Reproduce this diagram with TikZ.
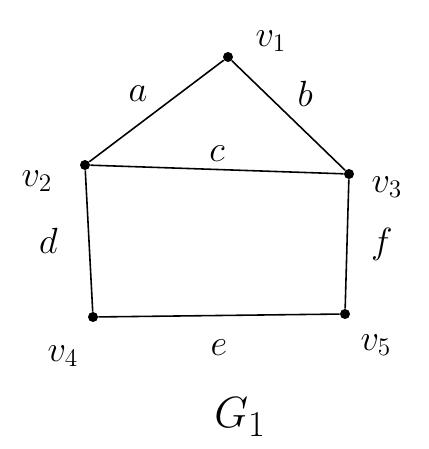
\documentclass[tikz,border=0pt]{standalone}
\usepackage{tikz}
\usetikzlibrary{positioning}
\begin{document}
\begin{tikzpicture}[font=\huge]
  \tikzset{
    vertex/.style={
      circle,
      fill=black,
      inner sep=0pt,
      minimum size=0.2cm,
    },
    edge/.style={
      draw=black,
      line width=0.9pt,
    },
    vlabel/.style={
      inner sep=1pt,
    },
  }

  \path[use as bounding box] (0,0) rectangle (8.56,8.98);

  % Vertices of the graph.
  \node[vertex] (v1) at (4.56,7.84) {};
  \node[vertex] (v2) at (1.70,5.68) {};
  \node[vertex] (v3) at (6.98,5.50) {};
  \node[vertex] (v4) at (1.86,2.64) {};
  \node[vertex] (v5) at (6.90,2.70) {};

  \node[vlabel] (l1) at (5.42,8.16) {\(v_1\)};
  \node[vlabel] (l2) at (0.74,5.36) {\(v_2\)};
  \node[vlabel] (l3) at (7.74,5.24) {\(v_3\)};
  \node[vlabel] (l4) at (1.26,1.86) {\(v_4\)};
  \node[vlabel] (l5) at (7.52,2.08) {\(v_5\)};

  % Edges.
  \draw[edge] (v1) -- node[above left=2pt] {\(a\)} (v2);
  \draw[edge] (v1) -- node[above right=2pt] {\(b\)} (v3);
  \draw[edge] (v2) -- node[above=1pt] {\(c\)} (v3);
  \draw[edge] (v2) -- node[left=14pt] {\(d\)} (v4);
  \draw[edge] (v4) -- node[below=10pt] {\(e\)} (v5);
  \draw[edge] (v3) -- node[right=10pt] {\(f\)} (v5);

  \node[inner sep=1pt,font=\fontsize{30}{36}\selectfont] (g1) at (4.80,0.64) {\(G_1\)};
\end{tikzpicture}
\end{document}
